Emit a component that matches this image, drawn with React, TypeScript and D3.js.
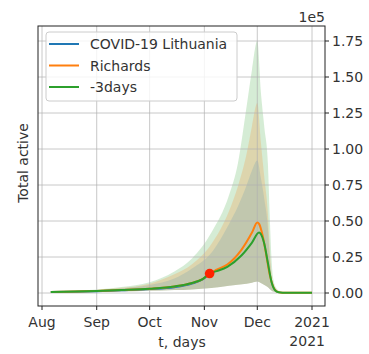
import React from "react";
import * as d3 from "d3";

const W = 369;
const H = 354;
const parse = d3.timeParse("%Y-%m-%d");

// Axis ticks
const xTickDates = ["2020-08-01", "2020-09-01", "2020-10-01", "2020-11-01", "2020-12-01", "2021-01-01"];
const xTickLabels = ["Aug", "Sep", "Oct", "Nov", "Dec", "2021"];
const yTickValues = [0, 25000, 50000, 75000, 100000, 125000, 150000, 175000];
const yTickLabels = ["0.00", "0.25", "0.50", "0.75", "1.00", "1.25", "1.50", "1.75"];

// COVID-19 Lithuania (observed)
const dataDates = ["2020-08-06", "2020-08-20", "2020-09-01", "2020-09-15", "2020-10-01", "2020-10-15", "2020-10-25", "2020-10-31", "2020-11-04"];
const dataValues = [650, 950, 1300, 1900, 2700, 4000, 6500, 9400, 13300];

// Richards model
const richardsDates = ["2020-08-06", "2020-08-20", "2020-09-01", "2020-09-15", "2020-10-01", "2020-10-15", "2020-10-25", "2020-10-31", "2020-11-04", "2020-11-08", "2020-11-14", "2020-11-22", "2020-11-28", "2020-12-01", "2020-12-02", "2020-12-04", "2020-12-06", "2020-12-08", "2020-12-10", "2020-12-12", "2020-12-15", "2020-12-20", "2021-01-01"];
const richardsValues = [700, 1000, 1400, 2000, 2900, 4500, 7000, 9700, 13500, 16200, 19800, 30000, 42000, 49000, 48000, 40000, 27000, 13000, 4500, 1200, 200, 100, 100];

// -3days model
const shiftDates = ["2020-08-06", "2020-08-20", "2020-09-01", "2020-09-15", "2020-10-01", "2020-10-15", "2020-10-25", "2020-10-31", "2020-11-04", "2020-11-08", "2020-11-14", "2020-11-22", "2020-11-28", "2020-12-02", "2020-12-03", "2020-12-05", "2020-12-07", "2020-12-09", "2020-12-11", "2020-12-13", "2020-12-18", "2021-01-01"];
const shiftValues = [700, 1000, 1400, 2000, 2900, 4500, 7000, 9700, 13500, 15200, 18200, 26000, 35000, 42000, 41000, 34000, 21000, 8000, 2000, 500, 100, 100];

// Uncertainty bands
const bandDates = ["2020-08-06", "2020-09-01", "2020-09-15", "2020-10-01", "2020-10-15", "2020-10-25", "2020-11-05", "2020-11-15", "2020-11-20", "2020-11-25", "2020-11-28", "2020-12-01", "2020-12-03", "2020-12-05", "2020-12-07", "2020-12-08", "2020-12-09", "2020-12-10", "2020-12-12", "2020-12-15", "2020-12-20", "2021-01-01"];
const shiftUpper = [1000, 2500, 4200, 7500, 15000, 24000, 42000, 68000, 90000, 130000, 155000, 175000, 140000, 115000, 90000, 55000, 25000, 10000, 3000, 500, 0, 0];
const richardsUpper = [900, 2000, 3600, 6500, 13000, 20000, 34000, 57000, 74000, 97000, 116000, 132000, 105000, 80000, 55000, 32000, 14000, 5000, 1500, 200, 0, 0];
const innerUpper = [800, 1800, 3200, 5500, 10000, 17000, 28000, 48000, 60000, 75000, 85000, 92000, 80000, 65000, 45000, 25000, 10000, 4000, 1000, 100, 0, 0];
const bandLower = [500, 800, 1000, 1500, 2000, 2500, 3500, 5000, 5800, 6500, 7200, 8000, 7000, 5500, 4000, 2800, 1800, 1000, 400, 100, 0, 0];

// Last observed point
const lastDate = ["2020-11-04"];
const lastValue = [13500];

const legendLabels = ["COVID-19 Lithuania", "Richards", "-3days"];
const legendColors = ["#1f77b4", "#ff7f0e", "#2ca02c"];

const FONT = "DejaVu Sans, sans-serif";

export default function App() {
  const left = 38, right = 325, top = 26, bottom = 306;
  const x = d3.scaleTime()
    .domain([parse("2020-08-01")!, parse("2021-01-01")!])
    .range([42, 312]);
  const y = d3.scaleLinear().domain([0, 175000]).range([293, 41]);

  const line = (dates: string[], vals: number[]) =>
    d3.line<number>()
      .x((_, i) => x(parse(dates[i])!))
      .y((v) => y(v))
      .curve(d3.curveMonotoneX)(vals) || "";

  const area = (upper: number[]) =>
    d3.area<number>()
      .x((_, i) => x(parse(bandDates[i])!))
      .y0((_, i) => y(bandLower[i]))
      .y1((v) => y(v))
      .curve(d3.curveMonotoneX)(upper) || "";

  return (
    <svg width={W} height={H} style={{ position: "absolute", left: 0, top: 0, background: "#fff" }} fontFamily={FONT}>
      <defs>
        <clipPath id="plot">
          <rect x={left} y={top} width={right - left} height={bottom - top} />
        </clipPath>
      </defs>
      <g clipPath="url(#plot)">
        <path d={area(shiftUpper)} fill="#2ca02c" fillOpacity={0.2} />
        <path d={area(richardsUpper)} fill="#ff7f0e" fillOpacity={0.2} />
        <path d={area(innerUpper)} fill="#1f77b4" fillOpacity={0.15} />
        {xTickDates.map((d) => (
          <line key={"gx" + d} x1={x(parse(d)!)} x2={x(parse(d)!)} y1={top} y2={bottom} stroke="#b0b0b0" strokeOpacity={0.7} strokeWidth={1} />
        ))}
        {yTickValues.map((v) => (
          <line key={"gy" + v} x1={left} x2={right} y1={y(v)} y2={y(v)} stroke="#b0b0b0" strokeOpacity={0.7} strokeWidth={1} />
        ))}
        <path d={line(dataDates, dataValues)} fill="none" stroke="#1f77b4" strokeWidth={2} />
        <path d={line(richardsDates, richardsValues)} fill="none" stroke="#ff7f0e" strokeWidth={2} />
        <path d={line(shiftDates, shiftValues)} fill="none" stroke="#2ca02c" strokeWidth={2} />
        {lastDate.map((d, i) => (
          <circle key={d} cx={x(parse(d)!)} cy={y(lastValue[i])} r={4.8} fill="#ff2200" />
        ))}
      </g>
      <rect x={left} y={top} width={right - left} height={bottom - top} fill="none" stroke="#222" strokeWidth={1} />
      {xTickDates.map((d, i) => (
        <g key={"tx" + d}>
          <line x1={x(parse(d)!)} x2={x(parse(d)!)} y1={bottom} y2={bottom + 4} stroke="#222" />
          <text x={x(parse(d)!)} y={327} textAnchor="middle" fontSize={14} fill="#333">{xTickLabels[i]}</text>
        </g>
      ))}
      {yTickValues.map((v, i) => (
        <g key={"ty" + v}>
          <line x1={right} x2={right + 4} y1={y(v)} y2={y(v)} stroke="#222" />
          <text x={332} y={y(v) + 5} fontSize={14} fill="#333">{yTickLabels[i]}</text>
        </g>
      ))}
      <text x={325} y={22} textAnchor="end" fontSize={14} fill="#333">1e5</text>
      <text x={325} y={346} textAnchor="end" fontSize={14} fill="#333">2021</text>
      <text x={182} y={347} textAnchor="middle" fontSize={14} fill="#333">t, days</text>
      <text transform="translate(28,163) rotate(-90)" textAnchor="middle" fontSize={14} fill="#333">Total active</text>
      <rect x={46} y={32} width={191} height={69} rx={3} fill="#fff" fillOpacity={0.8} stroke="#cccccc" />
      {legendLabels.map((l, i) => (
        <g key={l}>
          <line x1={49} x2={79} y1={44 + i * 21.5} y2={44 + i * 21.5} stroke={legendColors[i]} strokeWidth={2} />
          <text x={90} y={49 + i * 21.5} fontSize={14} fill="#333">{l}</text>
        </g>
      ))}
    </svg>
  );
}
